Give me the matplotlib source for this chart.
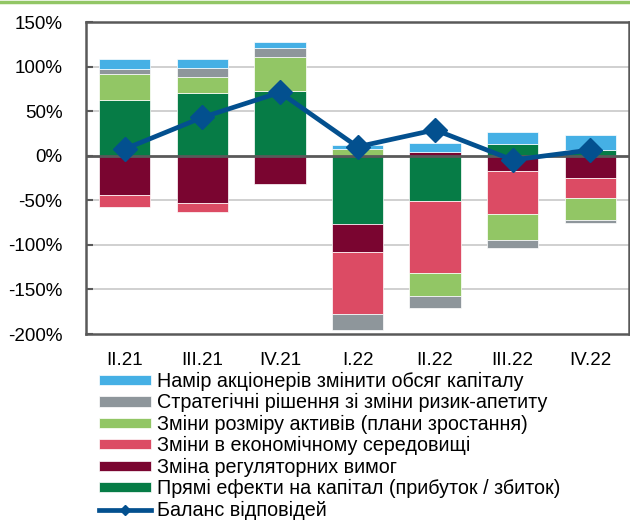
import matplotlib
matplotlib.use("Agg")
import matplotlib.pyplot as plt
import numpy as np
from matplotlib.lines import Line2D

plt.rcParams['font.family'] = ['Liberation Sans', 'DejaVu Sans']

categories = ["II.21", "III.21", "IV.21", "I.22", "II.22", "III.22", "IV.22"]

direct = [62.6, 70.0, 72.3, -77.0, -51.0, 13.5, 6.7]
regulatory = [-44.2, -53.0, -31.8, -30.8, 3.7, -17.0, -25.0]
economic = [-13.8, -10.0, 0.0, -70.0, -81.0, -48.5, -22.5]
assets = [29.2, 18.8, 38.2, 7.2, -25.0, -28.5, -25.1]
strategic = [5.6, 9.7, 10.1, -18.0, -13.7, -9.4, -3.4]
shareholders = [11.6, 9.7, 7.4, 4.8, 11.0, 13.5, 16.6]
balance = [7.5, 43.0, 71.0, 10.0, 29.0, -4.8, 6.4]

labels = [
    "Прямі ефекти на капітал (прибуток / збиток)",
    "Зміна регуляторних вимог",
    "Зміни в економічному середовищі",
    "Зміни розміру активів (плани зростання)",
    "Стратегічні рішення зі зміни ризик-апетиту",
    "Намір акціонерів змінити обсяг капіталу",
]
line_label = "Баланс відповідей"
yticks = [-200, -150, -100, -50, 0, 50, 100, 150]

series = [direct, regulatory, economic, assets, strategic, shareholders]
colors = ["#067C46", "#7A0530", "#DC4B64", "#92C665", "#8E969B", "#45B0E5"]
line_color = "#03508F"

fig = plt.figure(figsize=(6.3, 5.2), dpi=100)
ax = fig.add_axes([86/630, 1-334/520, (629-86)/630, (334-22)/520])

x = np.arange(len(categories))
pos_bottom = np.zeros(len(categories))
neg_bottom = np.zeros(len(categories))
handles = []
for vals, col, lab in zip(series, colors, labels):
    v = np.array(vals, dtype=float)
    bottoms = np.where(v >= 0, pos_bottom, neg_bottom)
    b = ax.bar(x, v, width=0.66, bottom=bottoms, color=col, edgecolor='white',
               linewidth=0.5, label=lab, zorder=2)
    handles.append(b)
    pos_bottom += np.where(v >= 0, v, 0)
    neg_bottom += np.where(v < 0, v, 0)

ln, = ax.plot(x, balance, color=line_color, lw=3.4, marker='D', markersize=12,
              zorder=4, label=line_label)

ax.set_xlim(-0.5, 6.5)
ax.set_ylim(-200, 150)
ax.set_yticks(yticks)
ax.set_yticklabels([f"{t}%" for t in yticks])
ax.set_xticks(x)
ax.set_xticklabels(categories)
ax.tick_params(axis='y', direction='in', length=5, width=1.5, color='#595959',
               labelsize=13.5, pad=17)
ax.tick_params(axis='x', length=0, labelsize=13.5, pad=13)

for t in [-150, -100, -50, 50, 100]:
    ax.axhline(t, color='#C8C8C8', lw=1.2, zorder=1)
ax.axhline(0, color='#595959', lw=2, zorder=3)

for s in ax.spines.values():
    s.set_color('#595959')
    s.set_linewidth(1.8)

leg_line = Line2D([], [], color=line_color, lw=3.4, marker='D', markersize=5)
leg_handles = handles[::-1] + [leg_line]
leg_labels = labels[::-1] + [line_label]
fig.legend(leg_handles, leg_labels, loc='upper left',
           bbox_to_anchor=(99/630, 1-372/520), frameon=False, fontsize=14.2,
           handlelength=2.65, handleheight=0.42, handletextpad=0.3,
           labelspacing=0.12, borderaxespad=0, borderpad=0)

fig.add_artist(Line2D([0, 629/630], [1-1.5/520, 1-1.5/520], color='#92C665',
                      lw=2.5, transform=fig.transFigure))

fig.savefig("out.png", dpi=100)
